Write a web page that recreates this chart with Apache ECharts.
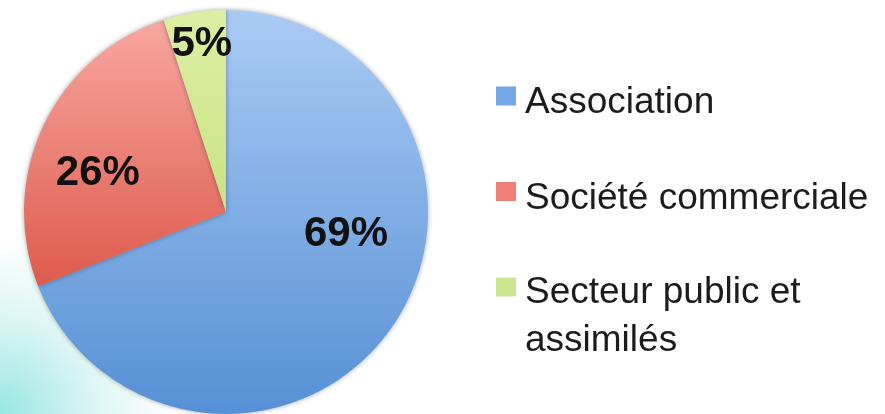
<!DOCTYPE html>
<html>
<head>
<meta charset="utf-8">
<script src="https://cdn.jsdelivr.net/npm/echarts@6/dist/echarts.min.js"></script>
<style>
  html, body { margin: 0; padding: 0; background: #fff; }
  #main { width: 885px; height: 414px; }
</style>
</head>
<body>
<div id="main"></div>
<script>
var categories = ['Association', 'Société commerciale', 'Secteur public et assimilés'];
var values = [69, 26, 5];
// top / bottom shades of each slice, and the vertical span of the shade
var topColors = ['#abcbf5', '#f8a7a1', '#dcefa4'];
var bottomColors = ['#5690d5', '#de5b4c', '#c9e283'];
var shadeSpan = [[10, 414], [20, 285], [10, 212]];
var iconColors = ['#74a7e6', '#f08178', '#cde58f'];
// hand placement of the percent labels (px from the default inside spot)
var labelOffsets = [[34, -36], [-34, 6], [-8, -65]];

function grad(i) {
    return {
        type: 'linear', x: 0, y: shadeSpan[i][0], x2: 0, y2: shadeSpan[i][1], global: true,
        colorStops: [
            { offset: 0, color: topColors[i] },
            { offset: 1, color: bottomColors[i] }
        ]
    };
}

var pieData = categories.map(function (name, i) {
    return {
        name: name,
        value: values[i],
        itemStyle: { color: grad(i) },
        label: { offset: labelOffsets[i] }
    };
});

// spacer lines push the text a little below the square, like the original
var legendRich = {
    sp: { fontSize: 10, lineHeight: 14 },
    sp2: { fontSize: 10, lineHeight: 59 },
    t: { fontFamily: 'Liberation Sans', fontSize: 37, lineHeight: 40, color: '#1c1c1c', padding: [0, 0, 0, 4] },
    t2: { fontFamily: 'Liberation Sans', fontSize: 37, lineHeight: 48, color: '#1c1c1c', padding: [0, 0, 0, 4] }
};

function legendItem(i) {
    return { name: categories[i], itemStyle: { color: iconColors[i] } };
}

var myChart = echarts.init(document.getElementById('main'));
myChart.setOption({
    animation: false,
    backgroundColor: {
        type: 'radial', x: 0, y: 1, r: 0.42,
        colorStops: [
            { offset: 0, color: '#98e6e2' },
            { offset: 0.55, color: '#dcf6f4' },
            { offset: 1, color: '#ffffff' }
        ]
    },
    legend: [{
        orient: 'vertical',
        left: 496,
        top: 71,
        padding: 0,
        itemWidth: 20,
        itemHeight: 19,
        itemGap: 45,
        icon: 'rect',
        selectedMode: false,
        data: [legendItem(0), legendItem(1)],
        formatter: function (name) { return '{sp| }\n{t|' + name + '}'; },
        textStyle: { rich: legendRich }
    }, {
        orient: 'vertical',
        left: 496,
        top: 234,
        padding: 0,
        itemWidth: 20,
        itemHeight: 19,
        icon: 'rect',
        selectedMode: false,
        data: [legendItem(2)],
        formatter: function () { return '{sp2| }\n{t2|Secteur public et}\n{t2|assimilés}'; },
        textStyle: { rich: legendRich }
    }],
    series: [{
        type: 'pie',
        center: [226, 212],
        radius: [0, 202],
        startAngle: 90,
        clockwise: true,
        avoidLabelOverlap: false,
        itemStyle: {
            borderWidth: 0,
            shadowBlur: 5,
            shadowColor: 'rgba(0,0,0,0.35)'
        },
        label: {
            show: true,
            position: 'inside',
            rotate: 0,
            formatter: '{c}%',
            fontFamily: 'Liberation Sans',
            fontWeight: 'bold',
            fontSize: 42,
            color: '#111'
        },
        labelLine: { show: false },
        emphasis: { disabled: true },
        data: pieData
    }]
});
</script>
</body>
</html>
